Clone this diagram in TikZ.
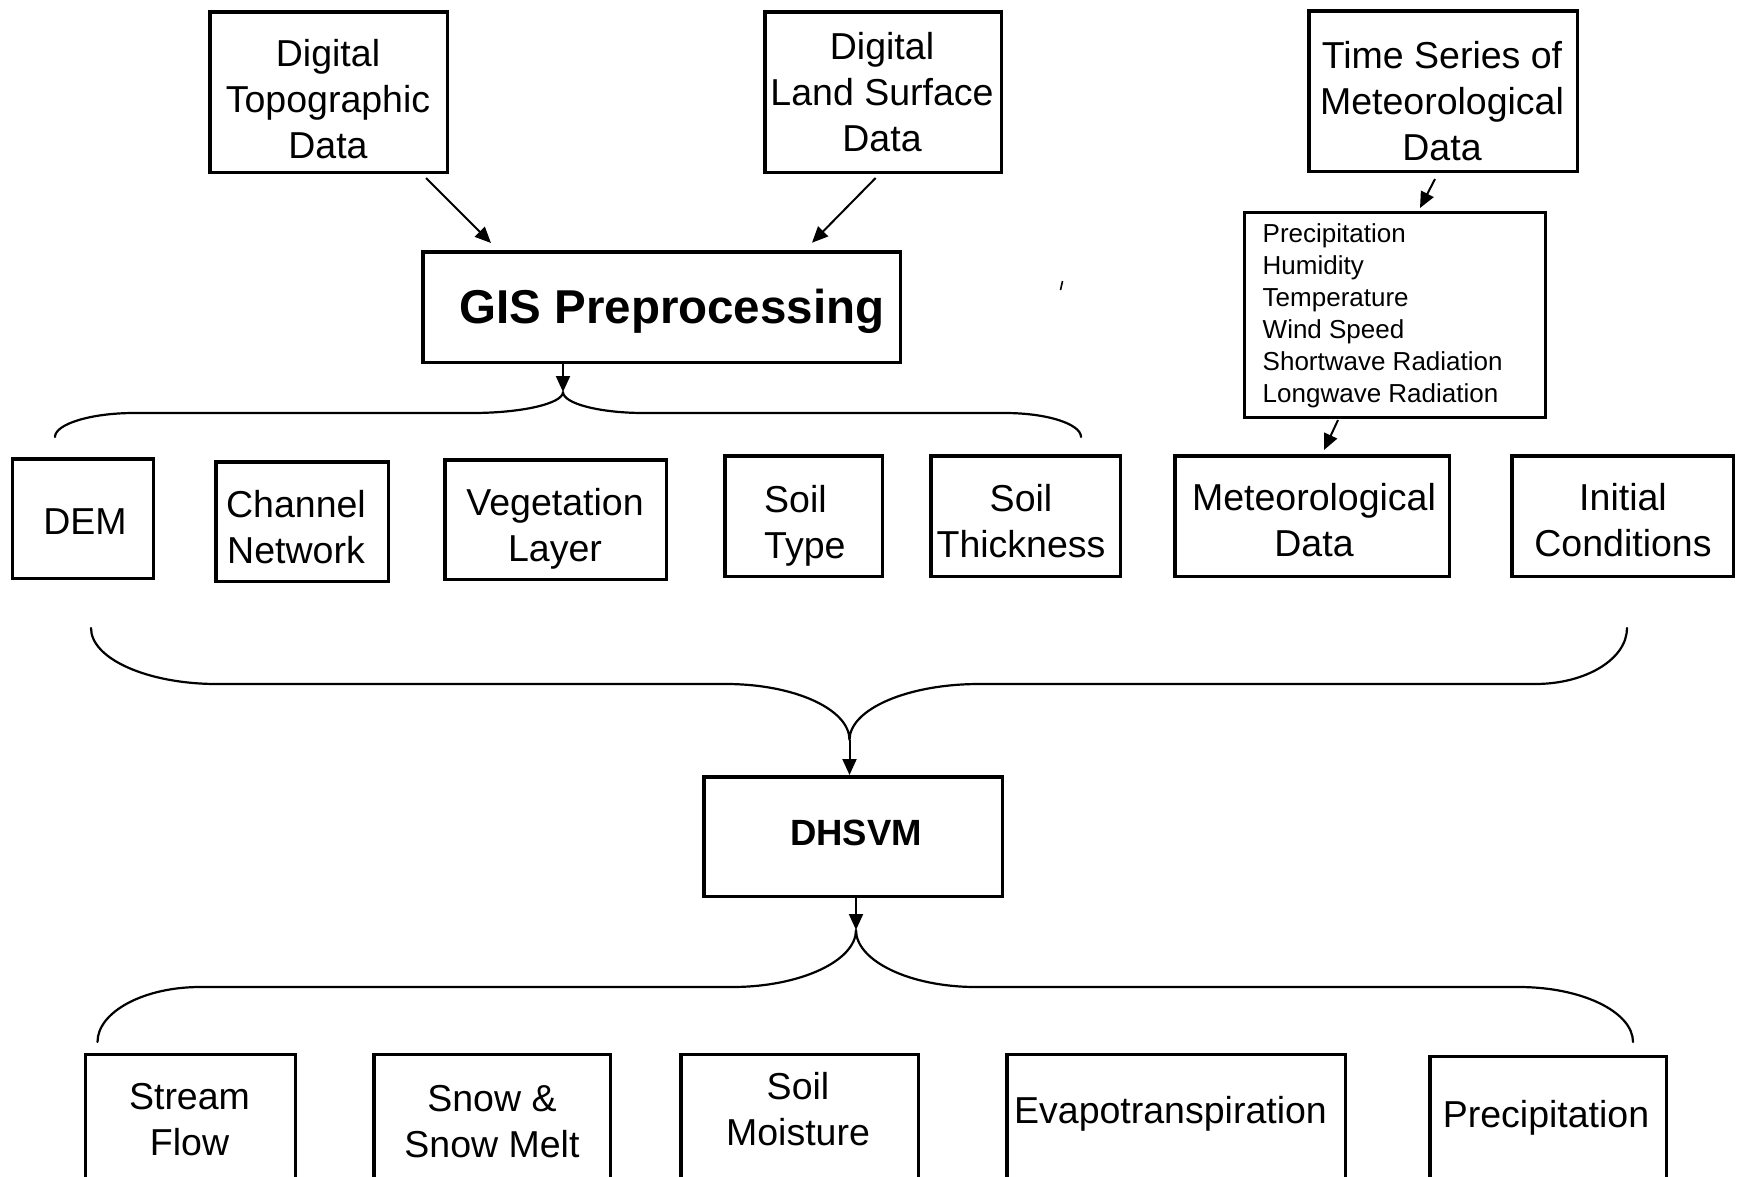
\documentclass[tikz,border=0pt]{standalone}
\usepackage{fontspec}
\setmainfont{Liberation Sans}
\usetikzlibrary{arrows.meta}
\begin{document}
\begin{tikzpicture}[x=1bp,y=-1bp,
  box/.style={draw, line width=3.5bp, inner sep=0pt, rectangle},
  lbl/.style={font=\fontsize{37.5bp}{46bp}\selectfont, align=center, inner sep=0pt},
  small/.style={font=\fontsize{26bp}{32bp}\selectfont, align=left, inner sep=0pt, anchor=west},
  bigb/.style={font=\fontsize{47.5bp}{54bp}\selectfont\bfseries, inner sep=0pt},
  midb/.style={font=\fontsize{36.5bp}{44bp}\selectfont\bfseries, inner sep=0pt},
  arr/.style={line width=2bp, -{Triangle[length=16bp,width=14bp]}},
  brace/.style={line width=2.2bp, line join=round, line cap=round}]
\path[use as bounding box] (0,0) rectangle (1738,1176);
\clip (0,0) rectangle (1738,1176);
\fill[white] (0,0) rectangle (1738,1176);

% top row
\node[box, minimum width=237.5bp, minimum height=160.5bp] (DTD) at (328.5,92) {};
\node[box, minimum width=236.5bp, minimum height=160.5bp] (DLSD) at (883,92) {};
\node[box, minimum width=268.5bp, minimum height=160.5bp] (TSMD) at (1443,91) {};
\node[lbl] (tDTD) at (328,99) {Digital\\Topographic\\Data};
\node[lbl] (tDLSD) at (882,92.5) {Digital\\Land Surface\\Data};
\node[lbl] (tTSMD) at (1442,101) {Time Series of\\Meteorological\\Data};

% GIS
\node[box, minimum width=477.5bp, minimum height=110.5bp] (GIS) at (661.5,307) {};
\node[bigb] (tGIS) at (672,311) {GIS Preprocessing};

% list box
\node[box, line width=3bp, minimum width=301bp, minimum height=205bp] (LIST) at (1395,315) {};
\node[small] (tLIST) at (1262.5,315.5) {Precipitation\\Humidity\\Temperature\\Wind Speed\\Shortwave Radiation\\Longwave Radiation};

% second row
\node[box, minimum width=140.5bp, minimum height=119.5bp] (DEM) at (83,518.5) {};
\node[box, minimum width=172.5bp, minimum height=119.5bp] (CHN) at (302,521.5) {};
\node[box, minimum width=221.5bp, minimum height=119.5bp] (VEG) at (555.5,519.5) {};
\node[box, minimum width=157.5bp, minimum height=120.5bp] (STY) at (803.5,516) {};
\node[box, minimum width=189.5bp, minimum height=120.5bp] (STH) at (1025.5,516) {};
\node[box, minimum width=274.5bp, minimum height=120.5bp] (MET) at (1312,516) {};
\node[box, minimum width=221.5bp, minimum height=120.5bp] (INI) at (1622.5,516) {};
\node[lbl] (tDEM) at (85,521.5) {DEM};
\node[lbl] (tCHN) at (296,526.6) {Channel\\Network};
\node[lbl] (tVEG) at (555,529) {Vegetation\\Layer};
\node[lbl, align=left, anchor=west] (tSTY) at (764,525.5) {Soil\\Type};
\node[lbl] (tSTH) at (1021,521) {Soil\\Thickness};
\node[lbl] (tMET) at (1314,520) {Meteorological\\Data};
\node[lbl] (tINI) at (1623,520) {Initial\\Conditions};

% DHSVM
\node[box, minimum width=298.5bp, minimum height=119.5bp] (DH) at (853,836.5) {};
\node[midb] (tDH) at (856,833) {DHSVM};

% bottom row
\node[box, minimum width=209.5bp, minimum height=194bp] (SF) at (190.5,1151.5) {};
\node[box, minimum width=236.5bp, minimum height=194bp] (SN) at (492,1151.5) {};
\node[box, minimum width=237.5bp, minimum height=194bp] (SM) at (799.5,1151.5) {};
\node[box, minimum width=338.5bp, minimum height=194bp] (EV) at (1176,1151.5) {};
\node[box, minimum width=236.5bp, minimum height=194bp] (PR) at (1548,1153.5) {};
\node[lbl] (tSF) at (189.5,1119.5) {Stream\\Flow};
\node[lbl] (tSN) at (492,1122) {Snow \&\\Snow Melt};
\node[lbl] (tSM) at (798,1109.5) {Soil\\Moisture};
\node[lbl] (tEV) at (1170.5,1113.5) {Evapotranspiration};
\node[lbl] (tPR) at (1546,1118) {Precipitation};

% arrow end points
\coordinate (a1s) at (426,178);
\coordinate (a1e) at (491,243);
\coordinate (a2s) at (875.6,178);
\coordinate (a2e) at (812,242.7);
\coordinate (a3s) at (1435,179);
\coordinate (a3e) at (1420,208);
\coordinate (a4s) at (1338,420);
\coordinate (a4e) at (1324,450);
\draw[arr] (a1s) -- (a1e);
\draw[arr] (a2s) -- (a2e);
\draw[arr] (a3s) -- (a3e);
\draw[arr] (a4s) -- (a4e);

% brace 1
\coordinate (b1tip) at (563,392);
\draw[arr] (GIS.south -| b1tip) -- (b1tip);
\draw[brace] (55,437) .. controls (55,424) and (91,413) .. (134,413) -- (472,413)
  .. controls (522,413) and (563,403.5) .. (b1tip)
  .. controls (563,403.5) and (599.5,413) .. (644,413) -- (1005,413)
  .. controls (1047,413) and (1081,424) .. (1081,437);

% brace 2
\coordinate (b2tip) at (849.5,740);
\draw[brace] (91,628) .. controls (91,659) and (148,684) .. (217,684) -- (726,684)
  .. controls (794,684) and (849.5,709) .. (b2tip)
  .. controls (849.5,709) and (908,684) .. (979,684) -- (1535,684)
  .. controls (1586,684) and (1627,659) .. (1627,628);
\draw[arr] (b2tip) -- (b2tip |- DH.north);

% brace 3
\coordinate (b3tip) at (856,930);
\draw[arr] (DH.south -| b3tip) -- (b3tip);
\draw[brace] (97.5,1042) .. controls (97.5,1012) and (143.6,987) .. (200,987) -- (732,987)
  .. controls (800,987) and (856,961) .. (b3tip)
  .. controls (856,961) and (910,987) .. (976,987) -- (1519,987)
  .. controls (1582,987) and (1633,1012) .. (1633,1042);

% stray tick mark
\draw[line width=1.6bp] (1062.5,281) -- (1060.5,290);
\end{tikzpicture}
\end{document}
